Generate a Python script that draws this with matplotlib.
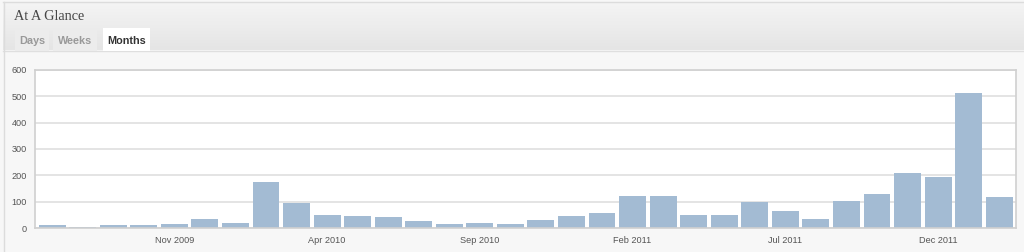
#!/usr/bin/python3

import numpy as np
import matplotlib
matplotlib.use("Agg")
import matplotlib.pyplot as plt
from matplotlib.patches import Rectangle

#monthly visits, Jul 2009 .. Feb 2012
months = ["Jul 2009", "Aug 2009", "Sep 2009", "Oct 2009", "Nov 2009", "Dec 2009",
          "Jan 2010", "Feb 2010", "Mar 2010", "Apr 2010", "May 2010", "Jun 2010",
          "Jul 2010", "Aug 2010", "Sep 2010", "Oct 2010", "Nov 2010", "Dec 2010",
          "Jan 2011", "Feb 2011", "Mar 2011", "Apr 2011", "May 2011", "Jun 2011",
          "Jul 2011", "Aug 2011", "Sep 2011", "Oct 2011", "Nov 2011", "Dec 2011",
          "Jan 2012", "Feb 2012"]

visits = [10, 5, 10, 10, 15, 33, 19, 175, 96, 51,
          44, 41, 25, 16, 20, 15, 32, 46, 58, 120,
          120, 51, 48, 99, 66, 34, 103, 131, 207, 193,
          513, 118]

labeled = ["Nov 2009", "Apr 2010", "Sep 2010", "Feb 2011", "Jul 2011", "Dec 2011"]
yticks = [0, 100, 200, 300, 400, 500, 600]

tabs = ["Days", "Weeks", "Months"]
active_tab = "Months"

#_____________________________________________________________________________
def main():

    W, H = 1024, 252

    fig = plt.figure()
    fig.set_size_inches(W/100., H/100.)
    fig.set_dpi(100)
    fig.patch.set_facecolor("#f7f7f7")

    #background widget in pixel coords
    bg = fig.add_axes([0, 0, 1, 1])
    bg.set_xlim(0, W)
    bg.set_ylim(H, 0)
    bg.axis("off")

    grad = np.linspace(0, 1, 48).reshape(-1, 1)
    bg.imshow(grad, extent=(3, W, 50, 2), aspect="auto", cmap=make_gray_cmap(), zorder=0)
    bg.plot([3, W], [2, 2], color="#dcdcdc", lw=1)
    bg.plot([3, W], [50.5, 50.5], color="#dfdfdf", lw=1)
    bg.plot([3.5, 3.5], [2, H], color="#dcdcdc", lw=1)
    bg.add_patch(Rectangle((3.5, 50.5), W, H, color="#f7f7f7", zorder=1))

    bg.text(14, 16, "At A Glance", family="Liberation Serif", fontsize=10.3,
            color="#464646", va="center", ha="left", zorder=3)

    tab_x = [15, 53, 103]
    tab_w = [34, 44, 47]
    for name, x0, w in zip(tabs, tab_x, tab_w):
        if name == active_tab:
            fc = "#ffffff"
            tc = "#333333"
            hgt = 23
        else:
            fc = "#ececec"
            tc = "#999999"
            hgt = 21
        bg.add_patch(Rectangle((x0, 51 - hgt), w, hgt, facecolor=fc, edgecolor="none", zorder=2))
        bg.text(x0 + w/2., 41, name, family="Liberation Sans", fontweight="bold",
                fontsize=7.8, color=tc, ha="center", va="center", zorder=3)

    #chart axes
    x0, x1, yt, yb = 35, 1016, 70, 228
    ax = fig.add_axes([x0/W, (H - yb)/H, (x1 - x0)/W, (yb - yt)/H])
    ax.set_facecolor("#ffffff")

    xpos = np.arange(len(visits))
    ax.bar(xpos, visits, width=0.88, color="#a3bbd3", zorder=2)

    ax.set_xlim(-0.56, len(visits) - 0.45)
    ax.set_ylim(0, 600)

    ax.set_yticks(yticks)
    ax.set_yticklabels([str(v) for v in yticks])
    ax.set_xticks([months.index(m) for m in labeled])
    ax.set_xticklabels(labeled)

    ax.grid(True, axis="y", color="#e2e2e2", lw=1.3, zorder=0)
    ax.tick_params(length=0, labelsize=6.6, labelcolor="#555555", pad=6)
    for t in ax.get_xticklabels() + ax.get_yticklabels():
        t.set_family("Liberation Sans")
    for s in ax.spines.values():
        s.set_color("#d0d0d0")
        s.set_linewidth(1.2)

    fig.savefig("out.png", dpi=100, facecolor=fig.get_facecolor())
    plt.close()

#main

#_____________________________________________________________________________
def make_gray_cmap():

    from matplotlib.colors import LinearSegmentedColormap
    return LinearSegmentedColormap.from_list("hdr", ["#f4f4f4", "#e5e5e5"])

#make_gray_cmap

#_____________________________________________________________________________
if __name__ == "__main__":

    main()
